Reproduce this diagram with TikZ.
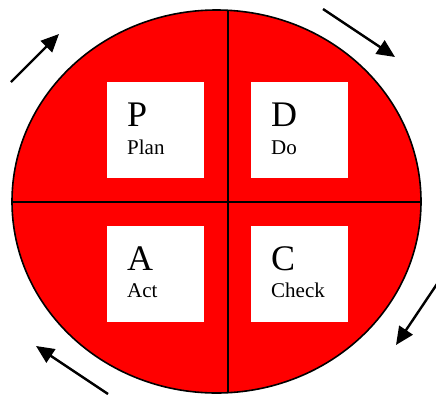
\documentclass[tikz,border=0pt]{standalone}
\usepackage{fontspec}
\setmainfont{Liberation Serif}
\usetikzlibrary{shapes.geometric,arrows.meta}
\begin{document}
\begin{tikzpicture}[x=1pt,y=-1pt,
  disc/.style={ellipse,draw=black,fill=red,line width=1.6pt,inner sep=0pt,minimum width=409pt,minimum height=383pt},
  divider/.style={draw=black,line width=1.8pt},
  box/.style={rectangle,fill=white,inner sep=0pt,minimum width=97pt,minimum height=96pt},
  letter/.style={inner sep=0pt,anchor=base west,font=\fontsize{36}{40}\selectfont},
  word/.style={inner sep=0pt,anchor=base west,font=\fontsize{21}{24}\selectfont},
  cycle/.style={draw=black,line width=2.4pt,-{Triangle[length=18pt,width=16pt]}}
]
\useasboundingbox (0,0) rectangle (436,394);
\node[disc] (circ) at (216.5,201.5) {};
\coordinate (vtop) at (228,10.4);
\coordinate (vbot) at (228,392.6);
\coordinate (hl) at (12,202);
\coordinate (hr) at (421,202);
\draw[divider] (vtop) -- (vbot);
\draw[divider] (hl) -- (hr);

\node[box] (Pbox) at (155.5,130) {};
\node[box] (Dbox) at (299.5,130) {};
\node[box] (Abox) at (155.5,273.5) {};
\node[box] (Cbox) at (299.5,273.5) {};

\node[letter] (P) at (127,126) {P};
\node[word] (Plan) at (127,154) {Plan};
\node[letter] (D) at (271,126) {D};
\node[word] (Do) at (271,154) {Do};
\node[letter] (A) at (127,270) {A};
\node[word] (Act) at (127,297) {Act};
\node[letter] (C) at (271,270) {C};
\node[word] (Check) at (271,297) {Check};

\coordinate (a1s) at (11,82);   \coordinate (a1e) at (59,34);
\coordinate (a2s) at (323,9);   \coordinate (a2e) at (395,57);
\coordinate (a3s) at (437,284); \coordinate (a3e) at (396,345);
\coordinate (a4s) at (108,394); \coordinate (a4e) at (36,346);
\draw[cycle] (a1s) -- (a1e);
\draw[cycle] (a2s) -- (a2e);
\draw[cycle] (a3s) -- (a3e);
\draw[cycle] (a4s) -- (a4e);
\end{tikzpicture}
\end{document}
